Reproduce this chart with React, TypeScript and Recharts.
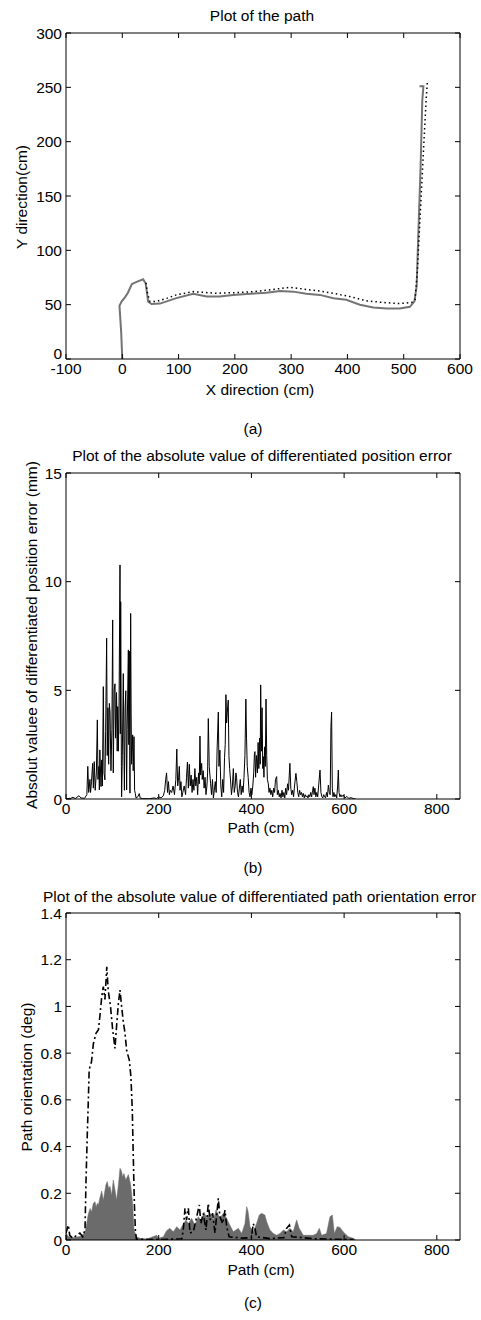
import { ComposedChart, Line, Area, XAxis, YAxis } from "recharts"

const FONT = '"Liberation Sans", Arial, sans-serif'

// (a) path in the plane, cm
const pathTicksX = [-100, 0, 100, 200, 300, 400, 500, 600]
const pathTicksY = [0, 50, 100, 150, 200, 250, 300]
const actualX = [0, -2, -5, -1, 5, 10, 17, 25.5, 37, 41.5, 46, 52, 67, 96, 126, 150, 173, 197, 227, 256, 280, 304, 327, 351, 375, 398, 422, 446, 470, 493, 511, 519, 523, 526, 530, 533, 535, 528]
const actualY = [0, 25, 49, 53, 57, 61, 69, 71, 73.3, 69.7, 52.7, 50.6, 51, 56, 60, 57.5, 57.5, 59, 60, 61, 62.5, 62, 60, 59, 56, 54.5, 50, 47.5, 46.5, 46.5, 48, 53, 67, 116, 177, 238, 251, 251]
const refX = [42, 45, 49, 61, 80, 96, 126, 167, 197, 233, 268, 298, 327, 351, 375, 404, 434, 464, 493, 514, 520, 524, 530, 536, 540, 542]
const refY = [70, 60, 53, 53, 56, 59, 62, 60.5, 61, 62, 64, 66, 64, 62.5, 60.5, 57.5, 53.5, 52, 51, 52, 54, 79, 140, 201, 240, 255]

// (b) differentiated position error, [path cm, mm]
const pathTicks = [0, 200, 400, 600, 800]
const posTicksY = [0, 5, 10, 15]
const posErr: [number, number][] = [
  [0, 0.02], [10, 0.03], [15, 0.08], [20, 0.02], [28, 0.15], [32, 0.05], [40, 0.03], [45, 0.2],
  [47, 1.5], [49, 0.3], [51.7, 0.9], [53, 0.3], [55, 0.8], [57.5, 1.64], [59, 0.5], [61, 1.72],
  [63, 0.4], [65.5, 1.2], [67.6, 3.64], [69, 0.9], [71, 1.5], [72, 0.42], [73, 2.26], [75.5, 0.57],
  [77, 1.8], [78.5, 0.6], [80.5, 5.17], [82, 1.2], [84, 0.88], [85.5, 3.1], [87.7, 7.4], [89, 2.0],
  [90.5, 4.2], [92, 1.6], [93.5, 4.4], [95, 4.0], [97, 1.3], [99, 3.2], [100.7, 8.24], [102, 1.2],
  [104, 5.0], [105.7, 5.3], [107, 2.8], [109, 4.9], [110.5, 2.2], [111.5, 4.25], [113, 2.2], [114.5, 4.5],
  [116.5, 10.77], [117.2, 3.0], [118, 9.08], [119.5, 1.5], [120, 0.1], [121.5, 2.0], [123.6, 5.77], [125, 2.2],
  [126, 0.4], [127.5, 4.2], [129, 4.98], [130.8, 0.42], [132, 3.2], [134.5, 6.86], [135.5, 2.5], [136.5, 6.8],
  [138, 0.27], [139.5, 8.54], [140.5, 4.0], [141.5, 1.6], [143.8, 2.95], [145, 1.3], [146.7, 2.87], [148, 0.4],
  [149.5, 0.26], [151, 0.05], [155, 0.1], [158, 0.25], [160, 0.05], [165, 0.02], [180, 0.01], [190, 0.05],
  [195, 0.02], [200, 0.1], [205, 0.05], [210, 0.15], [213, 0.4], [215, 0.9], [217, 1.2], [219, 0.3],
  [221, 0.8], [223, 0.2], [225, 0.4], [228, 0.3], [231, 0.6], [234, 0.2], [237, 0.9], [239, 2.3],
  [241, 0.6], [243, 1.0], [244.5, 1.5], [246, 0.4], [248, 0.8], [250, 0.1], [252, 0.3], [255, 0.6],
  [258, 0.2], [260, 1.0], [262, 1.7], [264, 0.5], [266, 1.6], [268, 0.6], [270, 1.1], [272, 0.3],
  [274, 0.9], [276, 0.4], [278, 1.4], [280, 0.6], [282, 1.0], [284, 0.2], [286, 1.2], [287.5, 0.7],
  [289, 2.9], [290.5, 1.1], [292.7, 1.64], [294, 0.9], [296, 1.3], [298, 0.5], [300, 1.0], [302, 0.2],
  [304, 0.6], [305.5, 1.2], [307, 3.7], [309, 1.5], [312, 0.7], [314, 0.2], [316, 0.9], [318, 0.05],
  [320, 0.4], [322, 0.8], [324, 0.3], [326, 2.3], [328.6, 4.0], [330, 1.5], [332, 2.25], [334, 0.6],
  [336, 0.1], [338, 0.9], [340, 0.3], [342, 1.9], [343.5, 2.5], [345, 4.8], [346.5, 3.5], [348, 4.0],
  [350, 4.55], [351.5, 2.0], [353, 1.4], [355, 0.87], [357, 0.2], [359, 0.6], [361, 1.4], [363, 0.3],
  [365, 0.6], [366.5, 1.2], [368, 1.0], [370, 0.3], [372, 0.1], [374, 0.5], [376, 0.9], [378, 0.2],
  [380, 0.6], [382, 0.3], [384, 1.0], [386, 2.0], [388, 4.6], [389.5, 2.8], [391, 1.5], [393, 1.0],
  [395, 0.3], [397, 0.1], [399, 0.5], [401, 0.2], [403, 0.6], [405, 1.2], [406.5, 2.1], [407.7, 2.18],
  [409, 1.0], [411, 2.0], [413, 1.2], [414.5, 2.6], [416, 1.4], [417.5, 2.8], [419, 1.6], [420, 5.25],
  [421.5, 2.2], [423, 4.2], [424.5, 1.4], [425.7, 1.95], [427, 1.0], [428.5, 2.4], [430, 1.5], [431.5, 4.6],
  [433, 2.0], [434.5, 0.9], [436.5, 0.7], [438, 0.3], [440, 0.5], [442, 0.2], [444, 0.4], [446, 0.1],
  [448, 0.5], [450, 0.3], [452, 0.9], [454.5, 1.03], [456, 0.2], [458, 0.4], [460, 0.1], [461.7, 0.26],
  [464, 0.05], [466, 0.4], [468, 0.1], [470, 0.3], [472, 0.05], [474, 0.5], [476, 0.2], [478, 0.7],
  [480, 0.4], [483, 1.64], [485, 0.5], [487, 0.2], [489, 0.4], [491, 0.1], [493, 0.6], [496, 1.18],
  [498, 0.8], [500, 0.3], [502, 0.1], [504, 0.4], [506, 0.2], [508, 0.3], [510, 0.1], [512, 0.26],
  [514, 0.05], [516, 0.2], [518, 0.1], [520, 0.15], [522, 0.05], [524, 0.2], [526, 0.1], [528, 0.3],
  [530, 0.1], [532, 0.4], [533.6, 0.57], [535, 0.2], [537, 0.5], [539, 0.1], [541, 0.3], [543, 0.1],
  [545, 0.6], [548, 1.33], [550, 0.3], [552, 0.1], [554, 0.05], [556, 0.2], [558, 0.1], [560, 0.05],
  [562, 0.3], [564, 0.1], [566, 0.64], [568, 0.3], [570, 0.2], [571.5, 3.3], [573, 4.0], [574.5, 0.5],
  [576, 0.1], [578, 0.3], [580, 0.1], [582, 0.2], [584, 0.05], [586, 0.6], [587.5, 1.33], [589, 0.3],
  [591, 0.1], [593, 0.2], [595, 0.1], [598, 0.18], [602, 0.05], [606, 0.12], [610, 0.03], [615, 0.06],
  [620, 0.02], [625, 0],
]

// (c) differentiated path orientation error, [path cm, deg]
const orientTicksY = [0, 0.2, 0.4, 0.6, 0.8, 1, 1.2, 1.4]
const orientGray: [number, number][] = [
  [0, 0.03], [5, 0.015], [15, 0.01], [30, 0.015], [41, 0.03], [44.6, 0.07], [48, 0.11], [52, 0.135],
  [55, 0.12], [59, 0.157], [62.6, 0.164], [65, 0.14], [67.6, 0.157], [70, 0.15], [73, 0.18], [77, 0.21],
  [80.5, 0.17], [83, 0.2], [86, 0.235], [89, 0.25], [92, 0.22], [95, 0.23], [98.5, 0.19], [102, 0.257],
  [105.7, 0.214], [109, 0.17], [113, 0.235], [116.5, 0.307], [120, 0.293], [122, 0.27], [125, 0.285], [129, 0.257],
  [134.5, 0.28], [137, 0.26], [139.5, 0.235], [143.8, 0.157], [146.7, 0.043], [152, 0.014], [160, 0.007], [175, 0.004],
  [195.6, 0.02], [200, 0.008], [210, 0.014], [217, 0.04], [224, 0.05], [231.5, 0.035], [239, 0.057], [246, 0.043],
  [251.7, 0.064], [259, 0.086], [264, 0.07], [271, 0.093], [278, 0.064], [285.5, 0.1], [292.7, 0.078], [297.7, 0.12],
  [303.5, 0.093], [310.7, 0.114], [318, 0.086], [323.6, 0.128], [332, 0.093], [339.4, 0.114], [346.6, 0.093], [352, 0.07],
  [361, 0.035], [371.8, 0.05], [379, 0.028], [386, 0.07], [389.8, 0.143], [393, 0.12], [397, 0.057], [404, 0.035],
  [411, 0.07], [417, 0.107], [422, 0.114], [429, 0.107], [433, 0.078], [440, 0.043], [447, 0.028], [454.5, 0.02],
  [461.7, 0.028], [469, 0.043], [476, 0.035], [483, 0.05], [490, 0.035], [497.6, 0.086], [503, 0.05], [512, 0.02],
  [523, 0.02], [533.6, 0.02], [541, 0.028], [546.5, 0.05], [551.5, 0.02], [562, 0.028], [569.5, 0.1], [574.6, 0.107],
  [579, 0.028], [585, 0.057], [591, 0.054], [598, 0.035], [609, 0.014], [620, 0.007], [625, 0],
]
const orientDash: [number, number][] = [
  [0, 0.03], [5, 0.064], [8, 0.02], [15, 0.008], [30, 0.03], [36, 0.014], [41, 0.043], [43, 0.24],
  [46, 0.457], [48, 0.585], [50, 0.73], [55, 0.763], [59, 0.84], [64.7, 0.885], [70, 0.9], [73, 0.956],
  [77, 1.04], [80.5, 1.085], [84, 1.03], [88, 1.17], [91, 1.07], [96, 1.0], [100.7, 0.9], [105.7, 0.82],
  [109, 0.913], [113, 1.013], [116.5, 1.07], [120, 1.0], [124, 0.928], [127, 0.89], [131, 0.81], [136.6, 0.77],
  [140, 0.7], [143, 0.557], [145, 0.37], [147.5, 0.157], [149.6, 0.043], [152, 0.003], [200, 0.002], [250, 0.005],
  [253, 0.043], [256.7, 0.136], [260, 0.086], [264, 0.136], [267.5, 0.03], [274.7, 0.036], [282, 0.1], [287.6, 0.15],
  [291, 0.07], [296, 0.114], [302, 0.043], [307, 0.157], [310.7, 0.086], [316.4, 0.114], [321.4, 0.03], [328.6, 0.178],
  [332, 0.1], [338, 0.07], [343, 0.128], [346.6, 0.057], [352, 0.014], [380, 0.008], [400, 0.01], [404, 0.07],
  [407.7, 0.05], [411, 0.014], [440, 0.006], [470, 0.01], [476, 0.05], [482, 0.064], [487, 0.014], [540, 0.005],
  [620, 0.002],
]

const toRows = (pts: [number, number][]) => pts.map(([x, y]) => ({ x, y }))
const zipRows = (xs: number[], ys: number[]) => xs.map((x, i) => ({ x, y: ys[i] }))

const tickFont = { fontSize: 15.5, fill: "#000", fontFamily: FONT }
const blank = () => ""

// left tick label; optionally lift the bottom one so it clears a wide x label
function YTick({ x, y, payload, lift = 0 }: any) {
  const dy = payload.index === 0 ? lift : 0
  return (
    <text x={x} y={y - dy} dy="0.355em" textAnchor="end" fontSize={15.5} fill="#000" fontFamily={FONT}>
      {payload.value}
    </text>
  )
}

function Text({ x, y, children, rotate, left }: { x: number; y: number; children: string; rotate?: boolean; left?: boolean }) {
  return (
    <div
      style={{
        position: "absolute",
        left: x,
        top: y,
        whiteSpace: "nowrap",
        fontSize: 15.5,
        fontFamily: FONT,
        color: "#000",
        lineHeight: 1,
        transform: left ? "translate(0,-50%)" : rotate ? "translate(-50%,-50%) rotate(-90deg)" : "translate(-50%,-50%)",
      }}
    >
      {children}
    </div>
  )
}

// matlab style box: ticks inside on all four sides, labels only bottom/left
function axes(xDomain: number[], xTicks: number[], yDomain: number[], yTicks: number[], lift = 0) {
  return [
    <XAxis key="xb" dataKey="x" type="number" domain={xDomain} ticks={xTicks} allowDataOverflow height={30}
      tick={tickFont} tickSize={-5} tickMargin={8.5} stroke="#000" interval={0} />,
    <XAxis key="xt" xAxisId="top" orientation="top" dataKey="x" type="number" domain={xDomain} ticks={xTicks}
      allowDataOverflow height={1} tickSize={-5} tickFormatter={blank} stroke="#000" interval={0} />,
    <YAxis key="yl" type="number" domain={yDomain} ticks={yTicks} allowDataOverflow width={60}
      tick={<YTick lift={lift} />} tickSize={-5} tickMargin={9} stroke="#000" interval={0} />,
    <YAxis key="yr" yAxisId="right" orientation="right" type="number" domain={yDomain} ticks={yTicks}
      allowDataOverflow width={1} tickSize={-5} tickFormatter={blank} stroke="#000" interval={0} />,
  ]
}

export default function App() {
  return (
    <div style={{ position: "absolute", left: 0, top: 0, width: 481, height: 1320, overflow: "hidden", background: "#fff" }}>
      {/* (a) */}
      <div style={{ position: "absolute", left: 0, top: 0 }}>
        <ComposedChart width={481} height={400} margin={{ top: 32, right: 20, bottom: 11, left: 6 }}>
          {axes([-100, 600], pathTicksX, [0, 300], pathTicksY, 6)}
          <Line data={zipRows(actualX, actualY)} dataKey="y" type="linear" stroke="#747474" strokeWidth={2}
            dot={false} isAnimationActive={false} />
          <Line data={zipRows(refX, refY)} dataKey="y" type="linear" stroke="#000" strokeWidth={1.5}
            strokeDasharray="1.5 3" dot={false} isAnimationActive={false} />
        </ComposedChart>
      </div>
      <Text x={262} y={16}>Plot of the path</Text>
      <Text x={22} y={197} rotate>Y direction(cm)</Text>
      <Text x={260} y={390}>X direction (cm)</Text>
      <Text x={253} y={429}>(a)</Text>

      {/* (b) */}
      <div style={{ position: "absolute", left: 0, top: 440 }}>
        <ComposedChart width={481} height={400} margin={{ top: 32, right: 20, bottom: 11, left: 6 }}>
          {axes([0, 850], pathTicks, [0, 15], posTicksY)}
          <Line data={toRows(posErr)} dataKey="y" type="linear" stroke="#000" strokeWidth={1}
            dot={false} isAnimationActive={false} />
        </ComposedChart>
      </div>
      <Text x={262} y={456}>Plot of the absolute value of differentiated position error</Text>
      <Text x={32} y={635} rotate>Absolut valuee of differentiated position error (mm)</Text>
      <Text x={261} y={828}>Path (cm)</Text>
      <Text x={253} y={868}>(b)</Text>

      {/* (c) */}
      <div style={{ position: "absolute", left: 0, top: 880 }}>
        <ComposedChart width={481} height={400} margin={{ top: 32, right: 20, bottom: 10, left: 6 }}>
          {axes([0, 850], pathTicks, [0, 1.4], orientTicksY)}
          <Area data={toRows(orientGray)} dataKey="y" type="linear" stroke="#6b6b6b" strokeWidth={0.5}
            fill="#6b6b6b" fillOpacity={1} dot={false} isAnimationActive={false} />
          <Line data={toRows(orientDash)} dataKey="y" type="linear" stroke="#000" strokeWidth={1.6}
            strokeDasharray="7 3 2 3" dot={false} isAnimationActive={false} />
        </ComposedChart>
      </div>
      <Text x={43} y={897} left>Plot of the absolute value of differentiated path orientation error</Text>
      <Text x={27} y={1077} rotate>Path orientation (deg)</Text>
      <Text x={261} y={1270}>Path (cm)</Text>
      <Text x={253} y={1303}>(c)</Text>
    </div>
  )
}
